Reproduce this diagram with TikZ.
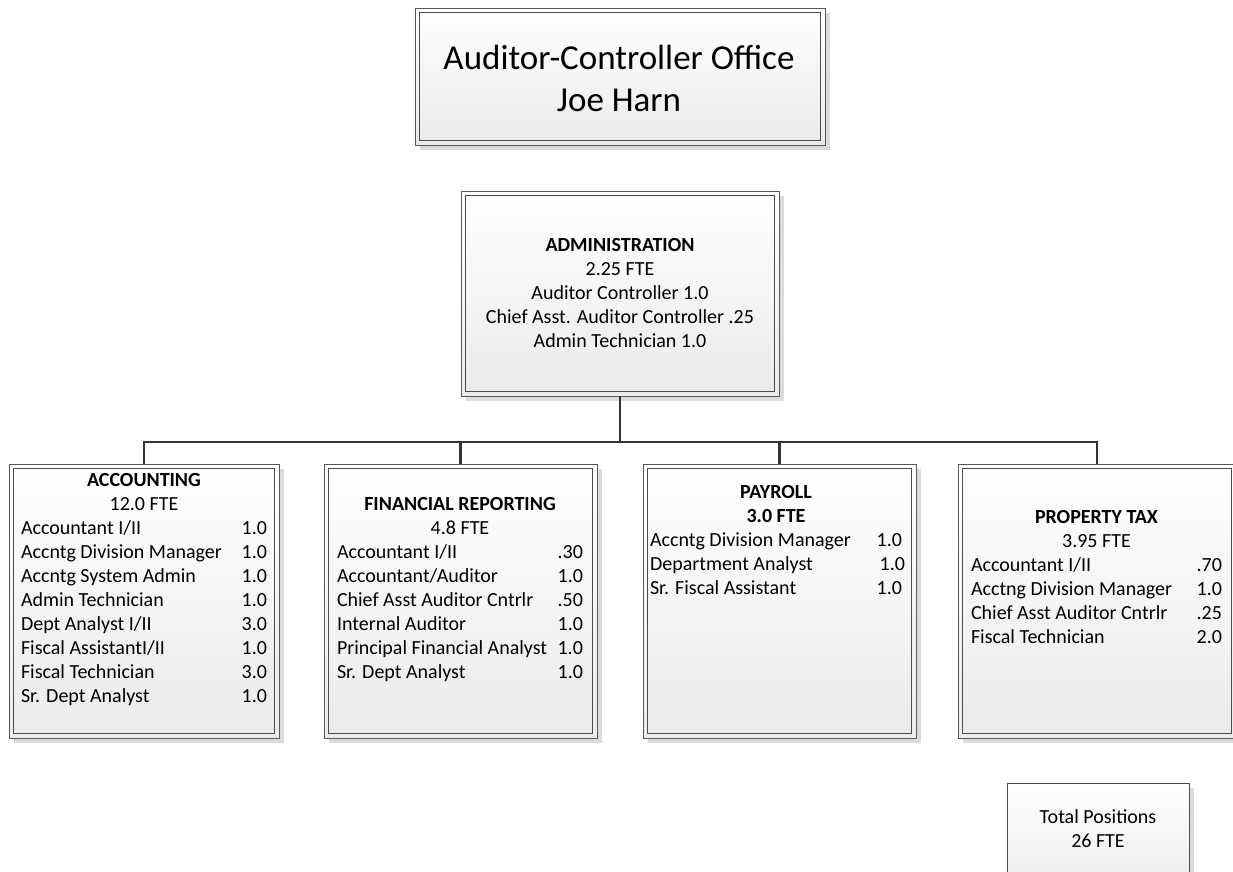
\documentclass[tikz,border=0pt]{standalone}
\usepackage{fontspec}
\setmainfont{Carlito}
\usetikzlibrary{shadows}
\tikzset{
  orgbox/.style={draw=black!65, line width=0.9pt, top color=white, bottom color=black!8,
    drop shadow={shadow xshift=5pt, shadow yshift=-5pt, fill=black!14, opacity=1},
    inner sep=0pt},
  innerline/.style={draw=black!70, line width=0.9pt},
  conn/.style={draw=black!80, line width=2.2pt},
  txt/.style={inner sep=0pt, outer sep=0pt, font=\fontsize{20}{24}\selectfont},
}
\newcommand{\innerbox}[1]{\draw[innerline] ([shift={(5pt,-5pt)}]#1.north west) rectangle ([shift={(-5pt,5pt)}]#1.south east);}
\begin{document}
\begin{tikzpicture}[x=1pt,y=-1pt]
\useasboundingbox (0,0) rectangle (1233,871);
\clip (0,0) rectangle (1233,871);
\fill[white] (0,0) rectangle (1233,871);

% boxes
\node[orgbox, minimum width=410pt, minimum height=137pt] (top) at (620,76.5) {};
\innerbox{top}
\node[orgbox, minimum width=318pt, minimum height=205pt] (admin) at (620,293.5) {};
\innerbox{admin}
\node[orgbox, minimum width=270pt, minimum height=274pt] (acc) at (144,601) {};
\innerbox{acc}
\node[orgbox, minimum width=273pt, minimum height=274pt] (fin) at (460.5,601) {};
\innerbox{fin}
\node[orgbox, minimum width=273pt, minimum height=274pt] (pay) at (779.5,601) {};
\innerbox{pay}
\node[orgbox, minimum width=278pt, minimum height=274pt] (prop) at (1097,601) {};
\innerbox{prop}
\node[orgbox, draw=black!70, minimum width=182pt, minimum height=117pt] (total) at (1098,841.5) {};

% connectors
\coordinate (bus) at (620,441.7);
\draw[conn] (admin.south) -- (bus);
\draw[conn] (bus) -| (acc.north);
\draw[conn] (bus) -| (fin.north);
\draw[conn] (bus) -| (pay.north);
\draw[conn] (bus) -| (prop.north);

% texts
\node[txt, anchor=north, font=\fontsize{35}{42}\selectfont] (topt) at (619,39.9)
  {\begin{tabular}{@{}c@{}}Auditor-Controller Office\\ Joe Harn\end{tabular}};

\node[txt, anchor=north] (admint) at (620,234.6)
  {\begin{tabular}{@{}c@{}}\bfseries ADMINISTRATION\\ 2.25 FTE\\ Auditor Controller 1.0\\
   Chief Asst. Auditor Controller .25\\ Admin Technician 1.0\end{tabular}};

\node[txt, anchor=north west] (acct) at (21,469.6)
  {\begin{tabular*}{246pt}{@{}l@{\extracolsep{\fill}}r@{}}
   \multicolumn{2}{@{}c@{}}{\bfseries ACCOUNTING}\\
   \multicolumn{2}{@{}c@{}}{12.0 FTE}\\
   Accountant I/II & 1.0\\
   Accntg Division Manager & 1.0\\
   Accntg System Admin & 1.0\\
   Admin Technician & 1.0\\
   Dept Analyst I/II & 3.0\\
   Fiscal AssistantI/II & 1.0\\
   Fiscal Technician & 3.0\\
   Sr. Dept Analyst & 1.0
  \end{tabular*}};

\node[txt, anchor=north west] (fint) at (337,493.6)
  {\begin{tabular*}{246pt}{@{}l@{\extracolsep{\fill}}r@{}}
   \multicolumn{2}{@{}c@{}}{\bfseries FINANCIAL REPORTING}\\
   \multicolumn{2}{@{}c@{}}{4.8 FTE}\\
   Accountant I/II & .30\\
   Accountant/Auditor & 1.0\\
   Chief Asst Auditor Cntrlr & .50\\
   Internal Auditor & 1.0\\
   Principal Financial Analyst & 1.0\\
   Sr. Dept Analyst & 1.0
  \end{tabular*}};

\node[txt, anchor=north west] (payt) at (650,481.6)
  {\begin{tabular*}{252pt}{@{}l@{\extracolsep{\fill}}r@{}}
   \multicolumn{2}{@{}c@{}}{\bfseries PAYROLL}\\
   \multicolumn{2}{@{}c@{}}{\bfseries 3.0 FTE}\\
   Accntg Division Manager & 1.0\\
   Department Analyst & 1.0\hspace*{-3pt}\\
   Sr. Fiscal Assistant & 1.0
  \end{tabular*}};

\node[txt, anchor=north west] (propt) at (971,506.6)
  {\begin{tabular*}{251pt}{@{}l@{\extracolsep{\fill}}r@{}}
   \multicolumn{2}{@{}c@{}}{\bfseries PROPERTY TAX}\\
   \multicolumn{2}{@{}c@{}}{3.95 FTE}\\
   Accountant I/II & .70\\
   Acctng Division Manager & 1.0\\
   Chief Asst Auditor Cntrlr & .25\\
   Fiscal Technician & 2.0
  \end{tabular*}};

\node[txt, anchor=north] (totalt) at (1098,806.6)
  {\begin{tabular}{@{}c@{}}Total Positions\\ 26 FTE\end{tabular}};
\end{tikzpicture}
\end{document}
